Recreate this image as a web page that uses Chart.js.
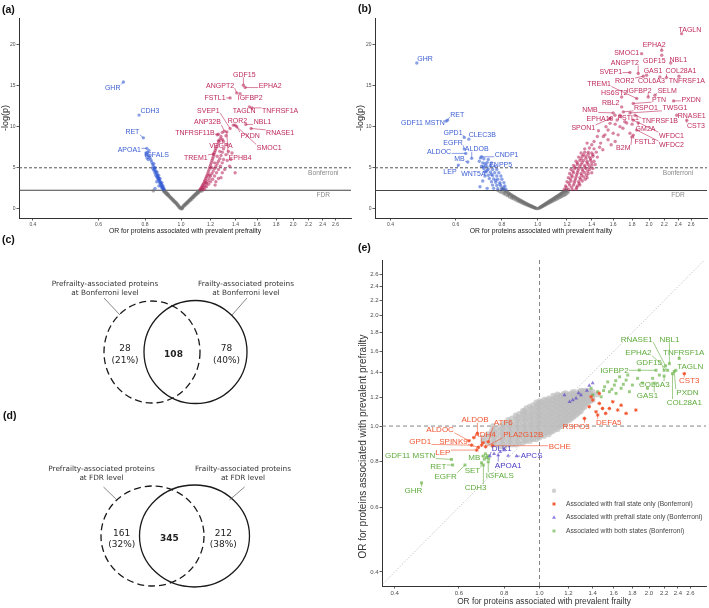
<!DOCTYPE html>
<html><head><meta charset="utf-8">
<title>Proteins associated with prefrailty and frailty</title>
<script src="https://cdn.jsdelivr.net/npm/chart.js@4/dist/chart.umd.min.js"></script>
<style>
html,body{margin:0;padding:0;background:#fff}
#fig{position:relative;width:709px;height:608px;overflow:hidden;background:#fff}
#fig canvas{position:absolute}
.pl{position:absolute;font-family:"Liberation Sans",Arial,sans-serif;font-weight:bold;font-size:10.5px;color:#111;line-height:1}
</style></head>
<body><div id="fig">
<canvas id="cA" width="355" height="240" style="left:0;top:0"></canvas>
<canvas id="cB" width="354" height="240" style="left:355px;top:0"></canvas>
<canvas id="cCD" width="355" height="373" style="left:0;top:235px"></canvas>
<canvas id="cE" width="354" height="373" style="left:355px;top:235px"></canvas>
<div class="pl" style="left:2px;top:4px">(a)</div>
<div class="pl" style="left:358px;top:3px">(b)</div>
<div class="pl" style="left:2px;top:234px">(c)</div>
<div class="pl" style="left:3px;top:410px">(d)</div>
<div class="pl" style="left:358px;top:242px">(e)</div>
</div>
<script>
// ---------------- shared ticks / thresholds ----------------
const OR_TICKS = [0.4,0.6,0.8,1.0,1.2,1.4,1.6,1.8,2.0,2.2,2.4,2.6];
const LOGP_TICKS = [0,5,10,15,20];
const BONFERRONI_P = 5;
const FDR_P_PREFRAIL = 2.27;
const FDR_P_FRAIL = 2.24;

// ---------------- (a) prevalent prefrailty volcano: [OR, -log(p)] pairs ----------------
const aGray = [
0.897,2.25, 0.90,2.19, 0.905,2.09, 0.91,1.98, 0.915,1.87, 0.92,1.77, 0.925,1.66, 0.93,1.56, 0.935,1.45, 0.94,1.35,
0.945,1.25, 0.95,1.14, 0.955,1.04, 0.96,0.94, 0.965,0.84, 0.97,0.74, 0.975,0.62, 0.98,0.5, 0.985,0.37, 0.99,0.24, 0.995,0.12, 1.0,0.03,
0.9,2.05, 0.91,1.85, 0.92,1.65, 0.93,1.45, 0.94,1.25, 0.95,1.02, 0.96,0.82, 0.97,0.62, 0.98,0.4, 0.99,0.16, 0.903,2.22, 0.913,2.0, 0.923,1.8, 0.842,2.2,
1.005,0.12, 1.01,0.27, 1.015,0.38, 1.02,0.48, 1.025,0.57, 1.03,0.66, 1.035,0.75, 1.04,0.85, 1.045,0.94, 1.05,1.03, 1.055,1.12, 1.06,1.21,
1.065,1.3, 1.07,1.39, 1.075,1.47, 1.08,1.56, 1.085,1.65, 1.09,1.74, 1.095,1.82, 1.10,1.91, 1.105,1.99, 1.11,2.08, 1.115,2.16, 1.12,2.24,
1.01,0.15, 1.02,0.35, 1.03,0.52, 1.04,0.7, 1.05,0.88, 1.06,1.05, 1.07,1.22, 1.08,1.4, 1.09,1.58, 1.10,1.75, 1.11,1.92, 1.12,2.08, 1.13,2.2, 1.14,2.2, 1.006,0.03
];
const aBlue = [
0.898,2.35, 0.895,2.5, 0.892,2.65, 0.889,2.8, 0.886,2.95, 0.883,3.1, 0.88,3.25, 0.877,3.4, 0.874,3.55, 0.871,3.7, 0.868,3.85, 0.865,4.0,
0.862,4.2, 0.858,4.4, 0.854,4.6, 0.85,4.8, 0.846,5.0, 0.842,5.2, 0.838,5.45, 0.834,5.7, 0.83,5.95, 0.825,6.2, 0.82,6.4, 0.815,6.6,
0.812,6.9, 0.81,6.2, 0.805,6.8, 0.82,7.1, 0.816,6.0,
0.89,2.5, 0.885,2.7, 0.88,2.9, 0.875,3.2, 0.87,3.5, 0.865,3.7, 0.86,3.9, 0.855,4.1, 0.85,4.4, 0.845,4.7, 0.84,4.9,
0.9,2.45, 0.895,2.8, 0.888,3.2, 0.878,3.7, 0.87,4.1, 0.862,4.5, 0.852,5.0, 0.845,5.5, 0.86,3.3, 0.872,2.8, 0.851,2.5
];
const aRed = [
1.125,2.35, 1.13,2.5, 1.135,2.65, 1.14,2.8, 1.145,2.95, 1.15,3.1, 1.155,3.3, 1.16,3.5, 1.165,3.7, 1.17,3.9, 1.175,4.1, 1.18,4.35,
1.185,4.6, 1.19,4.85, 1.195,5.1, 1.2,5.35, 1.205,5.6, 1.21,5.85, 1.215,6.1, 1.22,6.35, 1.225,6.6, 1.23,6.85, 1.235,7.1, 1.24,7.35,
1.248,7.6, 1.256,7.9, 1.265,8.2, 1.273,8.5, 1.28,8.8,
1.14,2.4, 1.15,2.6, 1.16,2.8, 1.17,3.1, 1.18,3.4, 1.19,3.7, 1.2,4.0, 1.21,4.3, 1.22,4.6, 1.23,4.9, 1.24,5.2, 1.25,5.5, 1.26,5.8,
1.27,6.1, 1.28,6.5, 1.29,6.9, 1.3,7.3,
1.155,2.4, 1.17,2.7, 1.185,3.0, 1.2,3.3, 1.215,3.6, 1.23,4.0, 1.245,4.4, 1.26,4.8, 1.275,5.2, 1.29,5.6, 1.3,6.0, 1.165,3.2,
1.19,4.1, 1.21,5.0, 1.23,5.6, 1.25,6.4, 1.27,7.0, 1.26,3.7, 1.24,3.3,
1.234,2.9, 1.33,5.9, 1.31,4.8, 1.397,4.4, 1.36,6.0, 1.34,7.0, 1.33,7.8, 1.3,8.2, 1.32,6.6, 1.28,3.8, 1.35,5.2, 1.29,4.4,
1.37,6.8, 1.32,8.9, 1.29,9.3, 1.25,9.0, 1.26,8.3
];
const aBlueNamed = [['GHR',0.70,15.43],['CDH3',0.771,11.4],['RET',0.792,8.64],['APOA1',0.809,7.36],['IGFALS',0.805,6.55]];
const aRedNamed = [
['GDF15',1.47,15.03],['EPHA2',1.486,14.75],['ANGPT2',1.411,14.1],['IGFBP2',1.44,14.0],['FSTL1',1.354,13.49],['SVEP1',1.354,9.78],
['TAGLN',1.526,12.4],['TNFRSF1A',1.549,12.28],['ANP32B',1.307,9.45],['ROR2',1.382,10.18],['NBL1',1.492,10.27],['TNFRSF11B',1.26,9.09],
['PXDN',1.411,9.98],['RNASE1',1.542,9.78],['SMOC1',1.397,10.18],['VEGFA',1.291,8.45],['EPHB4',1.327,9.37],['TREM1',1.221,6.67]
];
const aLabelAt = {
GHR:[0.655,14.75], CDH3:[0.825,11.9], RET:[0.74,9.37], APOA1:[0.726,7.27], IGFALS:[0.86,6.58],
GDF15:[1.479,16.36], EPHA2:[1.735,15.03], ANGPT2:[1.273,15.03], IGFBP2:[1.533,13.54], FSTL1:[1.234,13.54], SVEP1:[1.184,12.0],
TAGLN:[1.477,12.0], TNFRSF1A:[1.845,12.0], ANP32B:[1.177,10.58], ROR2:[1.417,10.7], NBL1:[1.654,10.63], TNFRSF11B:[1.09,9.25],
PXDN:[1.533,8.97], RNASE1:[1.845,9.25], SMOC1:[1.724,7.48], VEGFA:[1.279,7.76], EPHB4:[1.44,6.22], TREM1:[1.095,6.22]
};

// ---------------- (b) prevalent frailty volcano ----------------
const bGray = [
0.80,2.49, 0.805,2.4, 0.81,2.31, 0.815,2.23, 0.82,2.15, 0.825,2.07, 0.83,1.99, 0.835,1.91, 0.84,1.83, 0.845,1.75, 0.85,1.68, 0.855,1.61,
0.86,1.54, 0.865,1.47, 0.87,1.40, 0.875,1.33, 0.88,1.26, 0.885,1.19, 0.89,1.13, 0.895,1.07, 0.90,1.01, 0.905,0.95, 0.91,0.89, 0.915,0.83,
0.92,0.77, 0.925,0.71, 0.93,0.66, 0.935,0.61, 0.94,0.56, 0.945,0.5, 0.95,0.45, 0.955,0.4, 0.96,0.36, 0.965,0.31, 0.97,0.26, 0.975,0.21,
0.98,0.17, 0.985,0.12, 0.99,0.08, 0.995,0.04,
0.79,2.1, 0.80,2.0, 0.81,1.85, 0.82,1.72, 0.83,1.6, 0.84,1.46, 0.85,1.34, 0.86,1.23, 0.87,1.12, 0.88,1.0, 0.89,0.9, 0.90,0.8, 0.91,0.7,
0.92,0.6, 0.93,0.52, 0.94,0.44, 0.95,0.36, 0.96,0.28, 0.97,0.2, 0.98,0.13, 0.78,2.25, 0.815,2.0, 0.835,1.72, 0.855,1.45,
1.005,0.06, 1.01,0.13, 1.015,0.19, 1.02,0.25, 1.025,0.31, 1.03,0.38, 1.035,0.44, 1.04,0.50, 1.045,0.56, 1.05,0.62, 1.055,0.68, 1.06,0.74,
1.065,0.8, 1.07,0.86, 1.075,0.92, 1.08,0.98, 1.085,1.04, 1.09,1.09, 1.095,1.15, 1.10,1.21, 1.105,1.27, 1.11,1.33, 1.115,1.38, 1.12,1.44,
1.125,1.5, 1.13,1.55, 1.135,1.61, 1.14,1.66, 1.145,1.72, 1.15,1.77, 1.155,1.83, 1.16,1.89, 1.165,1.94, 1.17,1.99, 1.175,2.05, 1.18,2.10,
1.185,2.16, 1.19,2.21, 1.195,2.26,
1.02,0.2, 1.03,0.3, 1.04,0.4, 1.05,0.5, 1.06,0.59, 1.07,0.69, 1.08,0.78, 1.09,0.87, 1.10,0.97, 1.11,1.06, 1.12,1.15, 1.13,1.24, 1.14,1.33,
1.15,1.42, 1.16,1.51, 1.17,1.6, 1.18,1.68, 1.19,1.77, 1.20,1.9, 1.21,2.05, 1.2,2.2
];
const bBlue = [
0.82,2.4, 0.80,2.4, 0.78,2.45, 0.76,2.5, 0.815,2.8, 0.795,2.8, 0.775,2.85, 0.755,2.9, 0.81,3.2, 0.79,3.2, 0.77,3.25, 0.75,3.3,
0.80,3.6, 0.78,3.6, 0.76,3.65, 0.74,3.7, 0.795,4.0, 0.775,4.0, 0.755,4.05, 0.735,4.1, 0.72,4.0, 0.785,4.4, 0.765,4.4, 0.745,4.45,
0.725,4.5, 0.775,4.8, 0.755,4.8, 0.735,4.85, 0.715,4.9, 0.765,5.2, 0.745,5.25, 0.725,5.3, 0.705,5.2, 0.75,5.6, 0.73,5.65, 0.71,5.6,
0.695,5.8, 0.735,6.0, 0.715,6.1, 0.70,6.2, 0.698,2.7, 0.73,2.5, 0.71,3.4, 0.81,2.6, 0.79,3.0, 0.77,3.5, 0.75,4.2, 0.73,4.7, 0.72,5.5
];
const bRed = [
1.18,2.4, 1.21,2.4, 1.24,2.35, 1.27,2.4, 1.19,2.8, 1.22,2.9, 1.25,2.9, 1.28,2.8, 1.30,2.9, 1.20,3.3, 1.23,3.4, 1.26,3.4, 1.29,3.3,
1.32,3.4, 1.21,3.8, 1.24,3.9, 1.27,3.9, 1.30,3.8, 1.33,3.9, 1.36,3.8, 1.22,4.3, 1.25,4.4, 1.28,4.4, 1.31,4.3, 1.34,4.4, 1.37,4.3,
1.40,4.4, 1.23,4.8, 1.26,4.9, 1.29,4.9, 1.32,4.8, 1.35,4.9, 1.38,4.8, 1.41,4.9, 1.25,5.3, 1.28,5.4, 1.31,5.4, 1.34,5.3, 1.37,5.4,
1.40,5.3, 1.43,5.4, 1.27,5.8, 1.30,5.9, 1.33,5.9, 1.36,5.8, 1.39,5.9, 1.42,5.8, 1.29,6.3, 1.32,6.4, 1.35,6.4, 1.38,6.3, 1.41,6.4,
1.45,6.3, 1.31,6.8, 1.34,6.9, 1.37,6.9, 1.40,6.8, 1.44,6.9, 1.34,7.3, 1.38,7.4, 1.42,7.3, 1.47,7.5,
1.195,2.6, 1.235,2.65, 1.275,2.6, 1.215,3.15, 1.255,3.15, 1.295,3.1, 1.225,3.65, 1.265,3.65, 1.305,3.6, 1.345,3.6, 1.235,4.1, 1.275,4.15,
1.315,4.1, 1.355,4.1, 1.245,4.6, 1.285,4.65, 1.325,4.6, 1.365,4.6, 1.26,5.1, 1.30,5.15, 1.34,5.1, 1.38,5.1, 1.28,5.6, 1.32,5.65,
1.36,5.6, 1.40,5.6, 1.31,6.1, 1.35,6.15, 1.39,6.1, 1.33,6.6, 1.37,6.65, 1.41,6.6,
1.36,8.0, 1.42,8.2, 1.48,8.0, 1.45,8.8, 1.52,9.0, 1.505,8.8, 1.55,8.4, 1.60,9.2, 1.65,9.0, 1.669,10.0, 1.569,10.4, 1.62,10.3, 1.70,9.8,
1.741,10.45, 1.776,9.2, 1.58,7.8, 1.50,7.2, 1.40,7.8, 1.46,9.5, 1.53,10.0, 1.64,10.8, 1.72,10.6, 1.80,10.3, 1.57,11.0, 1.68,11.2, 1.62,8.2, 1.55,9.6
];
const bBlueNamed = [
['GHR',0.471,17.73],['RET',0.57,10.79],['GDF11 MSTN',0.565,10.67],['GPD1',0.633,8.69],['CLEC3B',0.651,8.48],['EGFR',0.633,7.27],
['ALDOC',0.639,6.75],['ALDOB',0.663,6.15],['CNDP1',0.705,6.34],['MB',0.647,5.7],['ENPP5',0.713,5.13],['LEP',0.61,5.33],['WNT5A',0.72,4.52]
];
const bRedNamed = [
['TAGLN',2.45,21.3],['EPHA2',2.165,19.27],['SMOC1',1.91,18.87],['GDF15',2.165,18.67],['NBL1',2.29,17.73],['ANGPT2',1.87,16.45],
['GAS1',1.97,16.24],['COL28A1',2.23,15.96],['SVEP1',1.776,16.57],['ROR2',1.93,16.12],['COL6A3',2.14,16.04],['TNFRSF1A',2.41,16.12],
['TREM1',1.853,13.42],['HS6ST2',1.687,13.61],['IGFBP2',1.99,13.61],['SELM',2.075,13.82],['PTN',1.813,12.81],['RBL2',1.687,12.4],
['PXDN',2.33,13.13],['NMB',1.6,11.67],['RSPO1',1.704,11.79],['TWSG1',1.776,11.67],['FSTL1',1.669,11.39],['EPHA10',1.618,11.39],
['TNFRSF1B',1.833,11.39],['RNASE1',2.377,11.39],['CST3',2.53,10.79],['SPON1',1.569,10.99],['GM2A',1.87,10.46],['WFDC1',1.813,10.79],
['FSTL3',1.813,8.97],['WFDC2',1.853,9.58],['B2M',1.797,8.76]
];
const bLabelAt = {
GHR:[0.496,18.27], RET:[0.606,11.5], 'GDF11 MSTN':[0.489,10.46], GPD1:[0.59,9.33], CLEC3B:[0.708,9.05], EGFR:[0.59,8.08],
ALDOC:[0.541,6.95], ALDOB:[0.684,7.31], CNDP1:[0.824,6.55], MB:[0.614,6.15], ENPP5:[0.794,5.45], LEP:[0.579,4.6], WNT5A:[0.67,4.33],
TAGLN:[2.58,21.8], EPHA2:[2.065,19.96], SMOC1:[1.74,18.95], GDF15:[2.067,18.02], NBL1:[2.4,18.18], ANGPT2:[1.72,17.78],
GAS1:[2.05,16.76], COL28A1:[2.44,16.76], SVEP1:[1.576,16.64], ROR2:[1.72,15.55], COL6A3:[2.03,15.55], TNFRSF1A:[2.53,15.55],
TREM1:[1.465,15.24], HS6ST2:[1.611,14.1], IGFBP2:[1.88,14.42], SELM:[2.24,14.42], PTN:[2.13,13.33], RBL2:[1.576,12.93],
PXDN:[2.6,13.33], NMB:[1.385,12.08], RSPO1:[1.962,12.28], TWSG1:[2.35,12.28], FSTL1:[1.758,11.12], EPHA10:[1.474,10.99],
TNFRSF1B:[2.14,10.7], RNASE1:[2.61,11.31], CST3:[2.68,10.1], SPON1:[1.328,9.85], GM2A:[1.957,9.78], WFDC1:[2.30,8.97],
FSTL3:[1.95,8.16], WFDC2:[2.30,7.88], B2M:[1.704,7.43]
};

// ---------------- (c)/(d) Venn counts ----------------
const vennSetNames = ['Prefrailty-associated proteins', 'Frailty-associated proteins'];
const vennLevels = ['at Bonferroni level', 'at FDR level'];
const vennBonferroni = [28, 108, 78];
const vennBonferroniPct = ['(21%)', '(40%)'];
const vennFdr = [161, 345, 212];
const vennFdrPct = ['(32%)', '(38%)'];

// ---------------- (e) OR frailty (x) vs OR prefrailty (y) ----------------
const eGrayCols = [
[0.70,[0.91,0.93]],[0.72,[0.90,0.93,0.95]],[0.74,[0.89,0.92,0.95,0.97]],[0.745,[1.0]],[0.76,[0.89,0.92,0.95,0.98]],
[0.78,[0.88,0.91,0.94,0.97,1.00]],[0.80,[0.88,0.91,0.94,0.97,1.00,1.02]],[0.82,[0.89,0.92,0.95,0.98,1.01,1.04]],
[0.84,[0.89,0.92,0.95,0.98,1.01,1.05]],[0.86,[0.89,0.92,0.95,0.98,1.01,1.04,1.07]],[0.88,[0.90,0.93,0.96,0.99,1.02,1.05,1.08]],
[0.90,[0.90,0.93,0.96,0.99,1.02,1.05,1.08,1.10]],[0.92,[0.91,0.94,0.97,1.00,1.03,1.06,1.09,1.12]],
[0.94,[0.91,0.94,0.97,1.00,1.03,1.06,1.09,1.13]],[0.96,[0.92,0.95,0.98,1.01,1.04,1.07,1.10,1.14]],
[0.98,[0.92,0.95,0.98,1.01,1.04,1.07,1.10,1.13,1.16]],[1.00,[0.93,0.96,0.99,1.02,1.05,1.08,1.11,1.14,1.17]],
[1.03,[0.94,0.97,1.00,1.03,1.06,1.09,1.12,1.15,1.18]],[1.06,[0.95,0.98,1.01,1.04,1.07,1.10,1.13,1.16,1.19]],
[1.09,[0.97,1.00,1.03,1.06,1.09,1.12,1.15,1.18,1.21]],[1.12,[0.98,1.01,1.04,1.07,1.10,1.13,1.16,1.19,1.22]],
[1.15,[1.00,1.03,1.06,1.09,1.12,1.15,1.18,1.21]],[1.18,[1.02,1.05,1.08,1.11,1.14,1.17,1.20,1.23]],
[1.21,[1.04,1.07,1.10,1.13,1.16,1.19,1.22]],[1.24,[1.06,1.09,1.12,1.15,1.18,1.21,1.24]],[1.27,[1.08,1.11,1.14,1.17,1.20,1.23]],
[1.30,[1.10,1.13,1.16,1.19,1.22,1.25]],[1.33,[1.13,1.16,1.19,1.22,1.25]],[1.36,[1.16,1.19,1.22,1.25]],[1.40,[1.18,1.21,1.24]],[1.44,[1.22]],
[0.75,[0.905,0.935,0.965]],[0.79,[0.895,0.925,0.955,0.985]],[0.83,[0.905,0.935,0.965,0.995,1.025]],[0.87,[0.905,0.935,0.965,0.995,1.03,1.06]],
[0.91,[0.915,0.945,0.975,1.005,1.04,1.07,1.10]],[0.95,[0.925,0.955,0.985,1.015,1.05,1.08,1.115]],[0.99,[0.935,0.965,0.995,1.03,1.06,1.09,1.125,1.15]],
[1.015,[0.945,0.975,1.01,1.04,1.07,1.10,1.135,1.165]],[1.045,[0.96,0.99,1.02,1.05,1.08,1.115,1.145,1.175]],
[1.075,[0.965,0.995,1.025,1.055,1.085,1.115,1.15,1.18]],[1.105,[0.985,1.015,1.045,1.075,1.105,1.14,1.17,1.2]],
[1.135,[0.995,1.025,1.055,1.085,1.115,1.145,1.18,1.21]],[1.165,[1.015,1.045,1.075,1.105,1.135,1.165,1.2,1.225]],
[1.195,[1.035,1.065,1.095,1.125,1.155,1.185,1.215]],[1.225,[1.05,1.08,1.11,1.14,1.17,1.2,1.23]],[1.255,[1.07,1.1,1.13,1.16,1.19,1.22]],
[1.285,[1.09,1.12,1.15,1.18,1.21,1.24]],[1.315,[1.12,1.15,1.18,1.21,1.24]],[1.345,[1.15,1.18,1.21,1.24]],[1.38,[1.17,1.2,1.23]]
];
const eRed = [1.40,1.178, 1.46,1.153, 1.37,1.129, 1.49,1.117, 1.43,1.094, 1.556,1.117, 1.64,1.106, 1.73,1.083, 1.52,1.083, 1.59,1.165,
1.386,1.202, 1.46,1.228, 1.676,1.14, 1.84,1.106, 0.66,0.93, 0.70,0.90];
const eBlue = [1.26,1.19, 1.30,1.215, 1.234,1.178, 1.37,1.29, 1.40,1.31, 1.21,1.165, 1.171,1.215, 1.28,1.23, 1.35,1.25, 0.78,0.85, 0.75,0.84, 0.80,0.86, 0.82,0.83];
const eGreen = [1.445,1.241, 1.51,1.28, 1.556,1.241, 1.606,1.294, 1.623,1.228, 1.676,1.268, 1.73,1.335, 1.766,1.241, 1.80,1.294, 1.86,1.35,
1.92,1.31, 1.98,1.268, 1.748,1.378, 1.66,1.363, 1.54,1.32, 1.477,1.202, 1.40,1.215, 1.386,1.268, 2.046,1.35, 2.135,1.378, 1.88,1.422,
1.58,1.26, 1.70,1.30, 1.62,1.33, 1.50,1.25, 0.71,0.84, 0.715,0.82, 0.72,0.83, 0.705,0.812, 0.725,0.815];
const eRedNamed = [['CST3',2.5,1.39],['DEFA5',1.445,1.072],['RSPO3',1.329,1.049],['ALDOB',0.675,0.955],['ATF6',0.723,0.906],['ALDOC',0.64,0.912],
['ADH4',0.693,0.887],['PLA2G12B',0.711,0.878],['GPD1',0.651,0.887],['SPINK9',0.679,0.875],['BCHE',0.743,0.884],['LEP',0.672,0.86]];
const eBlueNamed = [['DLK1',0.73,0.828],['APCS',0.865,0.828],['APOA1',0.77,0.833]];
const eGreenNamed = [['RNASE1',2.22,1.46],['NBL1',2.275,1.48],['EPHA2',2.25,1.42],['TNFRSF1A',2.42,1.53],['GDF15',2.2,1.42],['IGFBP2',2.09,1.42],
['TAGLN',2.37,1.42],['COL6A3',2.2,1.37],['GAS1',2.067,1.31],['PXDN',2.345,1.41],['COL28A1',2.32,1.39],['GDF11 MSTN',0.573,0.811],
['RET',0.577,0.783],['MB',0.701,0.828],['EGFR',0.624,0.783],['SET',0.693,0.794],['CDH3',0.701,0.783],['IGFALS',0.723,0.799],['GHR',0.474,0.70]];
const eLabelAt = {
CST3:[2.58,1.33], DEFA5:[1.55,1.024], RSPO3:[1.26,1.0], ALDOB:[0.665,1.043], ATF6:[0.795,1.021], ALDOC:[0.533,0.979], ADH4:[0.708,0.949],
PLA2G12B:[0.902,0.949], GPD1:[0.47,0.91], SPINK9:[0.58,0.91], BCHE:[1.137,0.882], LEP:[0.542,0.846],
DLK1:[0.787,0.869], APCS:[0.951,0.833], APOA1:[0.82,0.783],
RNASE1:[1.85,1.73], NBL1:[2.275,1.73], EPHA2:[1.87,1.59], TNFRSF1A:[2.49,1.59], GDF15:[2.0,1.489], IGFBP2:[1.606,1.42], TAGLN:[2.595,1.46],
COL6A3:[2.067,1.30], GAS1:[1.98,1.21], PXDN:[2.55,1.236], COL28A1:[2.5,1.16],
'GDF11 MSTN':[0.441,0.833], RET:[0.527,0.777], MB:[0.662,0.824], EGFR:[0.552,0.73], SET:[0.654,0.755], CDH3:[0.667,0.68], IGFALS:[0.778,0.732], GHR:[0.45,0.669]
};
const eLegendLabels = ['', 'Associated with frail state only (Bonferroni)', 'Associated with prefrail state only (Bonferroni)', 'Associated with both states (Bonferroni)'];

// ---------------- helpers ----------------
const FONT = '"Liberation Sans", Arial, Helvetica, sans-serif';
Chart.defaults.font.family = FONT;
Chart.defaults.color = '#4d4d4d';

function pairs(a){ const r=[]; for(let i=0;i<a.length;i+=2) r.push({x:a[i], y:a[i+1]}); return r; }
function named(list){ return list.map(d => ({x:d[1], y:d[2]})); }
function cols(c){ const r=[]; c.forEach(([x,ys]) => ys.forEach(y => r.push({x, y}))); return r; }
function labelItems(list, at, color){ return list.map(d => ({name:d[0], x:d[1], y:d[2], lx:at[d[0]][0], ly:at[d[0]][1], color})); }

function leaderPlugin(items, size){
  return { id:'leaders', afterDatasetsDraw(chart){
    const c = chart.ctx, xs = chart.scales.x, ys = chart.scales.y;
    c.save();
    c.font = size + 'px ' + FONT; c.textAlign = 'center'; c.textBaseline = 'middle'; c.lineWidth = 0.6;
    items.forEach(it => {
      const px = xs.getPixelForValue(it.x), py = ys.getPixelForValue(it.y);
      const lx = xs.getPixelForValue(it.lx), ly = ys.getPixelForValue(it.ly);
      const hw = c.measureText(it.name).width/2 + 0.5, hh = size*0.42;
      const qx = Math.min(Math.max(px, lx-hw), lx+hw), qy = Math.min(Math.max(py, ly-hh), ly+hh);
      if (Math.hypot(px-qx, py-qy) > 2.5){ c.strokeStyle = it.color; c.beginPath(); c.moveTo(px,py); c.lineTo(qx,qy); c.stroke(); }
      c.fillStyle = it.color; c.fillText(it.name, lx, ly+0.5);
    });
    c.restore();
  }};
}
function notesPlugin(notes){
  return { id:'notes', afterDatasetsDraw(chart){
    const c = chart.ctx, xs = chart.scales.x, ys = chart.scales.y;
    c.save(); c.textAlign = 'center'; c.textBaseline = 'middle';
    notes.forEach(n => { c.font = n.size + 'px ' + FONT; c.fillStyle = n.color; c.fillText(n.text, xs.getPixelForValue(n.x), ys.getPixelForValue(n.y)); });
    c.restore();
  }};
}

const VG = 'rgba(112,112,112,0.55)', VB = 'rgba(45,85,210,0.55)', VR = 'rgba(178,22,78,0.52)';
const VB_TXT = '#3d5fd3', VR_TXT = '#be2b5b';

function axisBase(){
  return {
    grid:{drawOnChartArea:false, tickLength:2.5, color:'#333', lineWidth:0.8},
    border:{display:true, color:'#333', width:1}
  };
}

function volcano(id, d){
  const xr = d.xRange;
  const items = labelItems(d.blueNamed, d.at, VB_TXT).concat(labelItems(d.redNamed, d.at, VR_TXT));
  return new Chart(document.getElementById(id), {
    type:'scatter',
    data:{datasets:[
      {type:'line', showLine:true, data:[{x:xr[0],y:BONFERRONI_P},{x:xr[1],y:BONFERRONI_P}], borderColor:'#555', borderWidth:1, borderDash:[3,2], pointRadius:0, order:9},
      {type:'line', showLine:true, data:[{x:xr[0],y:d.fdr},{x:xr[1],y:d.fdr}], borderColor:'#444', borderWidth:1, pointRadius:0, order:9},
      {data:pairs(d.gray), backgroundColor:VG, borderWidth:0, pointRadius:1.8, pointHoverRadius:1.8, order:5},
      {data:pairs(d.blue).concat(named(d.blueNamed)), backgroundColor:VB, borderWidth:0, pointRadius:1.7, pointHoverRadius:1.7, order:3},
      {data:pairs(d.red).concat(named(d.redNamed)), backgroundColor:VR, borderWidth:0, pointRadius:1.7, pointHoverRadius:1.7, order:3}
    ]},
    options:{
      responsive:false, animation:false, devicePixelRatio:1, events:[],
      layout:{padding:{left:0, top:18, right:d.padRight, bottom:0}},
      plugins:{legend:{display:false}, tooltip:{enabled:false}},
      scales:{
        x:Object.assign(axisBase(), {type:'logarithmic', min:xr[0], max:xr[1],
          afterBuildTicks:s => { s.ticks = OR_TICKS.map(v => ({value:v})); },
          afterFit:s => { s.height = 22; },
          ticks:{callback:v => Number(v).toFixed(1), font:{size:5}, color:'#4d4d4d', maxRotation:0, autoSkip:false, padding:1},
          title:{display:true, text:d.xTitle, font:{size:6.8}, color:'#1a1a1a', padding:{top:0, bottom:5}}}),
        y:Object.assign(axisBase(), {type:'linear', min:-1.1, max:23.2,
          afterBuildTicks:s => { s.ticks = LOGP_TICKS.map(v => ({value:v})); },
          afterFit:s => { s.width = d.yW; },
          ticks:{font:{size:5}, color:'#4d4d4d', padding:1},
          title:{display:true, text:'-log(p)', font:{size:9}, color:'#1a1a1a', padding:0}})
      }
    },
    plugins:[leaderPlugin(items, 7), notesPlugin([
      {text:'Bonferroni', x:d.noteX, y:4.36, size:6.6, color:'#8a8a8a'},
      {text:'FDR', x:d.noteX, y:1.7, size:6.6, color:'#8a8a8a'}
    ])]
  });
}

volcano('cA', {gray:aGray, blue:aBlue, red:aRed, blueNamed:aBlueNamed, redNamed:aRedNamed, at:aLabelAt,
  fdr:FDR_P_PREFRAIL, xRange:[0.367,2.86], padRight:4, yW:19, noteX:2.41,
  xTitle:'OR for proteins associated with prevalent prefrailty'});
volcano('cB', {gray:bGray, blue:bBlue, red:bRed, blueNamed:bBlueNamed, redNamed:bRedNamed, at:bLabelAt,
  fdr:FDR_P_FRAIL, xRange:[0.363,2.87], padRight:2, yW:20, noteX:2.395,
  xTitle:'OR for proteins associated with prevalent frailty'});

// ---------------- (c)/(d) Venn diagrams ----------------
const VENN_LAYOUT = [
  {dashed:{cx:152, cy:117, rx:48, ry:51}, solid:{cx:195.5, cy:117, rx:51.5, ry:51.5},
   titleL:[105,49.5], titleR:[246,49.5], leadL:[[104,63],[120,80]], leadR:[[247,63],[232,80]],
   left:[125,114], mid:[173.5,120], right:[226.5,114]},
  {dashed:{cx:152.5, cy:301, rx:51.5, ry:50}, solid:{cx:194.5, cy:301, rx:55, ry:51},
   titleL:[101.5,234], titleR:[243,234], leadL:[[103.5,252],[117,265]], leadR:[[244.5,252],[229.5,265]],
   left:[121.7,298.5], mid:[169.3,304], right:[223.3,298.5]}
];
const VENN_COUNTS = [[vennBonferroni, vennBonferroniPct], [vennFdr, vennFdrPct]];
const VFONT = '"DejaVu Sans", Verdana, sans-serif';
const vennPlugin = { id:'venn', afterDraw(chart){
  const c = chart.ctx, X = v => chart.scales.x.getPixelForValue(v), Y = v => chart.scales.y.getPixelForValue(v);
  c.save();
  VENN_LAYOUT.forEach((L, i) => {
    const [counts, pct] = VENN_COUNTS[i];
    c.strokeStyle = '#1a1a1a'; c.lineWidth = 1.3;
    c.setLineDash([7,4]); c.beginPath(); c.ellipse(X(L.dashed.cx), Y(L.dashed.cy), L.dashed.rx, L.dashed.ry, 0, 0, Math.PI*2); c.stroke();
    c.setLineDash([]); c.beginPath(); c.ellipse(X(L.solid.cx), Y(L.solid.cy), L.solid.rx, L.solid.ry, 0, 0, Math.PI*2); c.stroke();
    c.lineWidth = 0.7; c.strokeStyle = '#555';
    [L.leadL, L.leadR].forEach(s => { c.beginPath(); c.moveTo(X(s[0][0]), Y(s[0][1])); c.lineTo(X(s[1][0]), Y(s[1][1])); c.stroke(); });
    c.textAlign = 'center'; c.textBaseline = 'middle'; c.fillStyle = '#333';
    c.font = '7.3px ' + VFONT;
    c.fillText(vennSetNames[0], X(L.titleL[0]), Y(L.titleL[1]));
    c.fillText(vennLevels[i], X(L.titleL[0]), Y(L.titleL[1]+9));
    c.fillText(vennSetNames[1], X(L.titleR[0]), Y(L.titleR[1]));
    c.fillText(vennLevels[i], X(L.titleR[0]), Y(L.titleR[1]+9));
    c.fillStyle = '#222'; c.font = '9px ' + VFONT;
    c.fillText(String(counts[0]), X(L.left[0]), Y(L.left[1]));
    c.fillText(pct[0], X(L.left[0]), Y(L.left[1]+11.5));
    c.fillText(String(counts[2]), X(L.right[0]), Y(L.right[1]));
    c.fillText(pct[1], X(L.right[0]), Y(L.right[1]+11.5));
    c.font = 'bold 9px ' + VFONT;
    c.fillText(String(counts[1]), X(L.mid[0]), Y(L.mid[1]));
  });
  c.restore();
}};
new Chart(document.getElementById('cCD'), {
  type:'scatter', data:{datasets:[]},
  options:{responsive:false, animation:false, devicePixelRatio:1, events:[],
    layout:{padding:0}, plugins:{legend:{display:false}, tooltip:{enabled:false}},
    scales:{x:{type:'linear', min:0, max:355, display:false}, y:{type:'linear', min:0, max:373, reverse:true, display:false}}},
  plugins:[vennPlugin]
});

// ---------------- (e) scatter ----------------
const E_RED = '#f2542d', E_BLUE = 'rgba(85,60,200,0.65)', E_GREEN = 'rgba(88,170,50,0.6)', E_GRAY = 'rgba(190,190,190,0.7)';
const E_RED_TXT = '#ef5530', E_BLUE_TXT = '#4a3dc4', E_GREEN_TXT = '#5fab3c';
const eItems = labelItems(eRedNamed, eLabelAt, E_RED_TXT).concat(labelItems(eBlueNamed, eLabelAt, E_BLUE_TXT), labelItems(eGreenNamed, eLabelAt, E_GREEN_TXT));
const eLegendPlugin = { id:'eLegend', afterDraw(chart){
  const c = chart.ctx; c.save();
  const rows = [255.7, 269, 282.5, 296];
  eLegendLabels.forEach((t, i) => {
    const ds = chart.data.datasets[i];
    const r = i === 0 ? 2.2 : ds.pointRadius;
    c.fillStyle = ds.backgroundColor; c.strokeStyle = ds.borderColor || ds.backgroundColor; c.lineWidth = ds.borderWidth || 0;
    Chart.helpers.drawPoint(c, {pointStyle:ds.pointStyle, radius:r, rotation:0, borderWidth:ds.borderWidth || 0}, 199, rows[i]);
    c.fillStyle = '#444'; c.font = '6.7px ' + FONT; c.textAlign = 'left'; c.textBaseline = 'middle';
    if (t) c.fillText(t, 211, rows[i]);
  });
  c.restore();
}};
const EX = [0.369, 2.87], EY = [0.366, 2.84];
const E_Y_TITLE = 'OR for proteins associated with prevalent prefrailty' + '\u00a0'.repeat(17);
new Chart(document.getElementById('cE'), {
  type:'scatter',
  data:{datasets:[
    {data:cols(eGrayCols), backgroundColor:E_GRAY, borderWidth:0, pointRadius:2.9, pointHoverRadius:2.9, pointStyle:'circle', order:6},
    {data:pairs(eRed).concat(named(eRedNamed)), backgroundColor:E_RED, borderColor:E_RED, borderWidth:1, pointRadius:1.8, pointHoverRadius:1.8, pointStyle:'star', order:2},
    {data:pairs(eBlue).concat(named(eBlueNamed)), backgroundColor:E_BLUE, borderColor:E_BLUE, borderWidth:0, pointRadius:2.3, pointHoverRadius:2.3, pointStyle:'triangle', order:3},
    {data:pairs(eGreen).concat(named(eGreenNamed)), backgroundColor:E_GREEN, borderColor:E_GREEN, borderWidth:0, pointRadius:2.1, pointHoverRadius:2.1, pointStyle:'rect', order:3},
    {type:'line', showLine:true, data:[{x:1,y:EY[0]},{x:1,y:EY[1]}], borderColor:'#777', borderWidth:0.9, borderDash:[4,3], pointRadius:0, order:9},
    {type:'line', showLine:true, data:[{x:EX[0],y:1},{x:EX[1],y:1}], borderColor:'#777', borderWidth:0.9, borderDash:[4,3], pointRadius:0, order:9},
    {type:'line', showLine:true, data:[{x:0.3,y:0.3},{x:3,y:3}], borderColor:'#aaa', borderWidth:0.9, borderDash:[1,2], pointRadius:0, order:9}
  ]},
  options:{
    responsive:false, animation:false, devicePixelRatio:1, events:[],
    layout:{padding:{left:0, top:25, right:2, bottom:0}},
    plugins:{legend:{display:false}, tooltip:{enabled:false}},
    scales:{
      x:Object.assign(axisBase(), {type:'logarithmic', min:EX[0], max:EX[1],
        afterBuildTicks:s => { s.ticks = OR_TICKS.map(v => ({value:v})); }, afterFit:s => { s.height = 22; },
        ticks:{callback:v => Number(v).toFixed(1), font:{size:6}, color:'#4d4d4d', maxRotation:0, autoSkip:false, padding:1},
        title:{display:true, text:'OR for proteins associated with prevalent frailty', font:{size:8.3}, color:'#333', padding:{top:0, bottom:1}}}),
      y:Object.assign(axisBase(), {type:'logarithmic', min:EY[0], max:EY[1],
        afterBuildTicks:s => { s.ticks = OR_TICKS.map(v => ({value:v})); }, afterFit:s => { s.width = 27; },
        ticks:{callback:v => Number(v).toFixed(1), font:{size:6}, color:'#4d4d4d', padding:1},
        title:{display:true, text:E_Y_TITLE, font:{size:10}, color:'#333', padding:{top:2, bottom:0}}})
    }
  },
  plugins:[leaderPlugin(eItems, 8), eLegendPlugin]
});
</script>
</body></html>
